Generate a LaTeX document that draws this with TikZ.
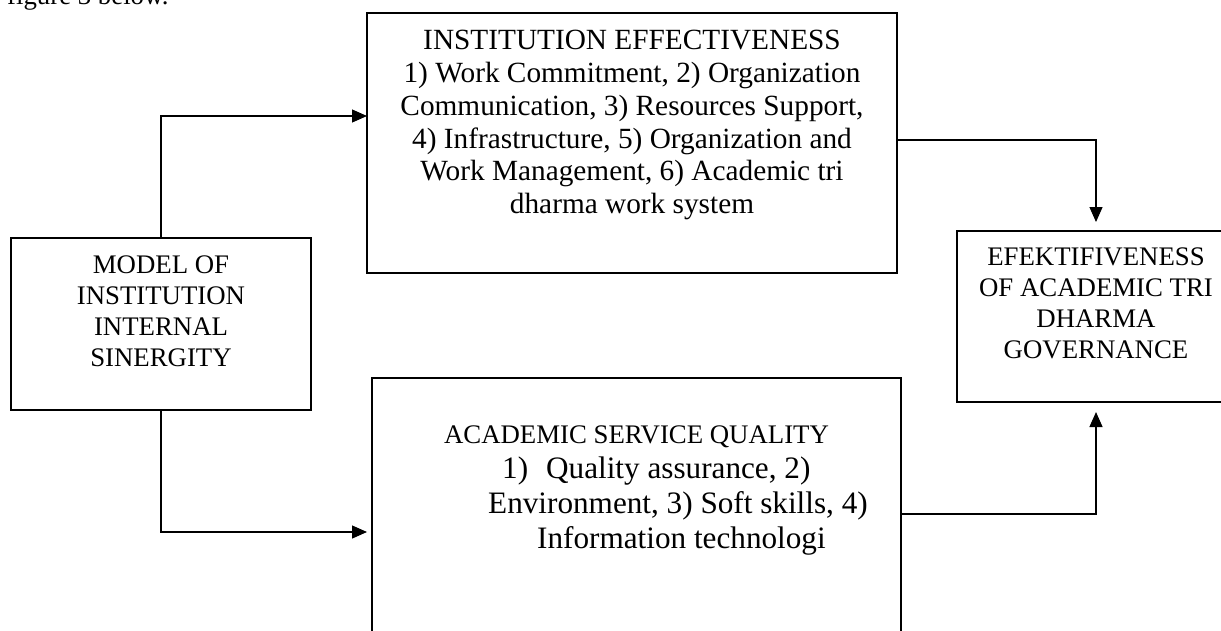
\documentclass[tikz,border=0pt]{standalone}
\usepackage{fontspec}
\setmainfont{Liberation Serif}
\usetikzlibrary{arrows.meta,positioning}

\begin{document}
\begin{tikzpicture}[x=1pt, y=-1pt,
    box/.style={draw, line width=1.2pt, inner sep=0pt, outer sep=0pt},
    conn/.style={line width=1.2pt, -{Triangle[length=15pt,width=13pt]}},
    small/.style={font=\fontsize{26.8}{31}\selectfont, align=center, inner sep=0pt},
    mid/.style={font=\fontsize{29.3}{32.8}\selectfont, align=center, inner sep=0pt},
    big/.style={font=\fontsize{31.2}{35}\selectfont, align=left, inner sep=0pt}]
    %%%%% START %%%%%

    \clip (0,0) rectangle (1221,630);

    \node[small, anchor=base west] (caption) at (7,4) {figure 3 below.};

    \node[box, minimum width=300pt, minimum height=172pt] (model) at (161,324) {};
    \node[box, minimum width=530pt, minimum height=260pt] (inst) at (632,143) {};
    \node[box, minimum width=529pt, minimum height=272pt] (quality) at (636.5,514) {};
    \node[box, minimum width=278pt, minimum height=171pt] (effect) at (1096,316.5) {};

    \node[small, below=18pt of model.north] (modeltxt) {MODEL OF\\INSTITUTION\\INTERNAL\\SINERGITY};
    \node[mid, below=17pt of inst.north] (insttxt) {INSTITUTION EFFECTIVENESS\\1) Work Commitment, 2) Organization\\Communication, 3) Resources Support,\\4) Infrastructure, 5) Organization and\\Work Management, 6) Academic tri\\dharma work system};
    \node[small, below=17pt of effect.north] (effecttxt) {EFEKTIFIVENESS\\OF ACADEMIC TRI\\DHARMA\\GOVERNANCE};

    \node[small, below=48pt of quality.north] (qualityhead) {ACADEMIC SERVICE QUALITY};
    \node[big, anchor=north west] (qualitylist) at (488,457) {\hspace*{14pt}1)\hspace{18pt}Quality assurance, 2)\\Environment, 3) Soft skills, 4)\\\hspace*{49pt}Information technologi};

    \draw[conn] (model.north) |- ([yshift=27pt]inst.west);
    \draw[conn] (model.south) |- ([xshift=-5pt,yshift=-18pt]quality.west);
    \draw[conn] ([yshift=3pt]inst.east) -| ([yshift=9pt]effect.north);
    \draw[conn] (quality.east) -| ([yshift=-10pt]effect.south);

    %%%%% END %%%%%
\end{tikzpicture}
\end{document}
